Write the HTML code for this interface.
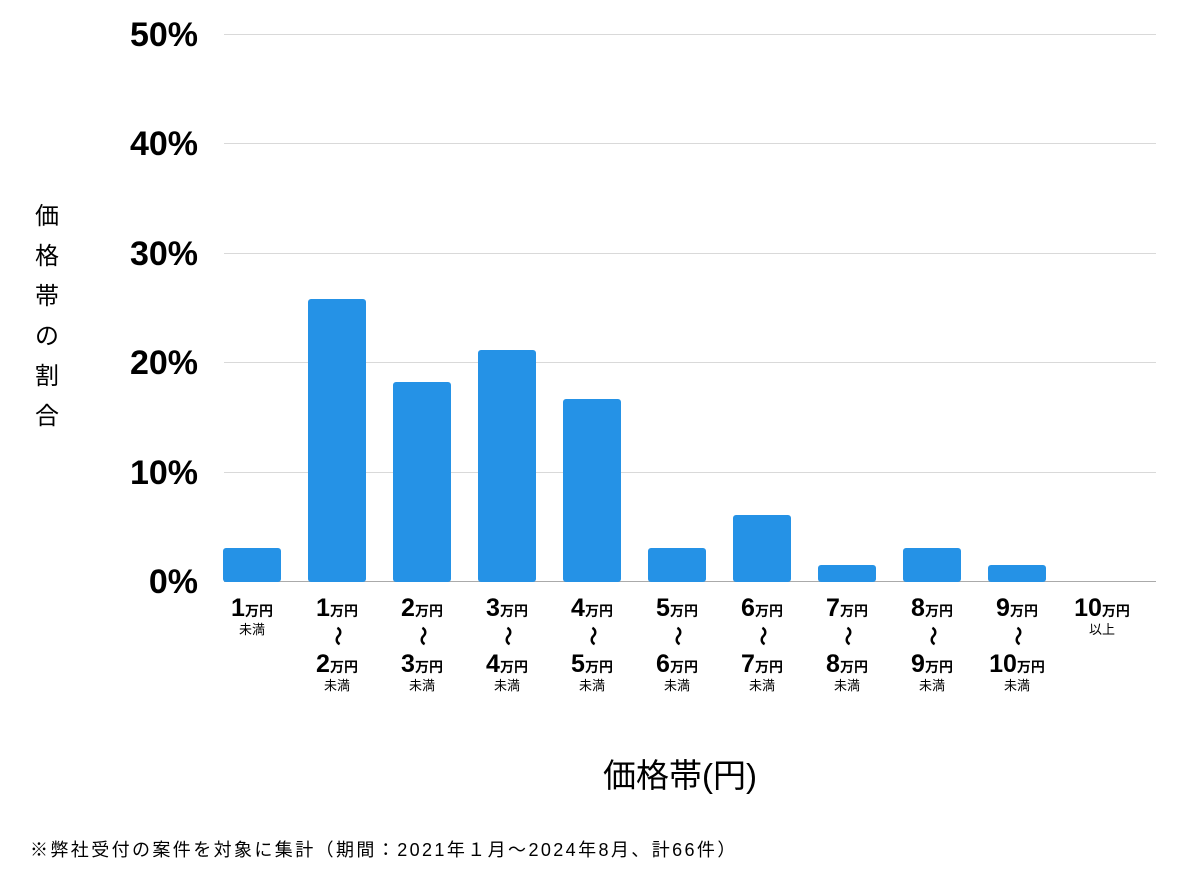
<!DOCTYPE html>
<html><head><meta charset="utf-8"><style>
body{margin:0;width:1200px;height:874px;background:#fff;position:relative;overflow:hidden;font-family:"Liberation Sans","Noto Sans CJK JP",sans-serif;color:#000}
.yl{position:absolute;left:100px;width:98px;text-align:right;font-weight:bold;font-size:34px;line-height:34px}
.xl{position:absolute;width:90px;text-align:center;top:594px}
.n{font-weight:900;font-size:25px;line-height:28px}
.u{font-weight:bold;font-size:14px}
.s{font-size:13px;line-height:16px;display:block}
.w{display:block;height:28px;line-height:28px;font-weight:bold;font-size:20px}
.w span{display:inline-block;transform:rotate(90deg)}
</style></head><body>
<svg width="1200" height="874" style="position:absolute;left:0;top:0">
<g stroke="#d9d9d9" stroke-width="1">
<line x1="224" x2="1156" y1="34.5" y2="34.5"/><line x1="224" x2="1156" y1="143.5" y2="143.5"/><line x1="224" x2="1156" y1="253.5" y2="253.5"/><line x1="224" x2="1156" y1="362.5" y2="362.5"/><line x1="224" x2="1156" y1="472.5" y2="472.5"/></g>
<line x1="224" x2="1156" y1="581.5" y2="581.5" stroke="#aaa"/>
<g fill="#2592e6">
<rect x="223" y="548" width="58" height="34" rx="3"/>
<rect x="308" y="299" width="58" height="283" rx="3"/>
<rect x="393" y="382" width="58" height="200" rx="3"/>
<rect x="478" y="350" width="58" height="232" rx="3"/>
<rect x="563" y="399" width="58" height="183" rx="3"/>
<rect x="648" y="548" width="58" height="34" rx="3"/>
<rect x="733" y="515" width="58" height="67" rx="3"/>
<rect x="818" y="565" width="58" height="17" rx="3"/>
<rect x="903" y="548" width="58" height="34" rx="3"/>
<rect x="988" y="565" width="58" height="17" rx="3"/>
</g></svg>
<div class="yl" style="top:18px">50%</div>
<div class="yl" style="top:127px">40%</div>
<div class="yl" style="top:237px">30%</div>
<div class="yl" style="top:346px">20%</div>
<div class="yl" style="top:456px">10%</div>
<div class="yl" style="top:565px">0%</div>
<div style="position:absolute;left:32px;top:197px;width:30px;font-size:24px;line-height:40px;text-align:center">価<br>格<br>帯<br>の<br>割<br>合</div>
<div class="xl" style="left:207px"><span class="n">1</span><span class="u">万円</span><span class="s">未満</span></div>
<div class="xl" style="left:292px"><span class="n">1</span><span class="u">万円</span><span class="w"><span>～</span></span><span class="n">2</span><span class="u">万円</span><span class="s">未満</span></div>
<div class="xl" style="left:377px"><span class="n">2</span><span class="u">万円</span><span class="w"><span>～</span></span><span class="n">3</span><span class="u">万円</span><span class="s">未満</span></div>
<div class="xl" style="left:462px"><span class="n">3</span><span class="u">万円</span><span class="w"><span>～</span></span><span class="n">4</span><span class="u">万円</span><span class="s">未満</span></div>
<div class="xl" style="left:547px"><span class="n">4</span><span class="u">万円</span><span class="w"><span>～</span></span><span class="n">5</span><span class="u">万円</span><span class="s">未満</span></div>
<div class="xl" style="left:632px"><span class="n">5</span><span class="u">万円</span><span class="w"><span>～</span></span><span class="n">6</span><span class="u">万円</span><span class="s">未満</span></div>
<div class="xl" style="left:717px"><span class="n">6</span><span class="u">万円</span><span class="w"><span>～</span></span><span class="n">7</span><span class="u">万円</span><span class="s">未満</span></div>
<div class="xl" style="left:802px"><span class="n">7</span><span class="u">万円</span><span class="w"><span>～</span></span><span class="n">8</span><span class="u">万円</span><span class="s">未満</span></div>
<div class="xl" style="left:887px"><span class="n">8</span><span class="u">万円</span><span class="w"><span>～</span></span><span class="n">9</span><span class="u">万円</span><span class="s">未満</span></div>
<div class="xl" style="left:972px"><span class="n">9</span><span class="u">万円</span><span class="w"><span>～</span></span><span class="n">10</span><span class="u">万円</span><span class="s">未満</span></div>
<div class="xl" style="left:1057px"><span class="n">10</span><span class="u">万円</span><span class="s">以上</span></div>
<div style="position:absolute;left:560px;top:756px;width:240px;text-align:center;font-size:33px;line-height:40px">価格帯(円)</div>
<div style="position:absolute;left:30px;top:838px;font-size:18px;line-height:24px;letter-spacing:2.4px;white-space:nowrap">※弊社受付の案件を対象に集計（期間：2021年１月～2024年8月、計66件）</div>
</body></html>
